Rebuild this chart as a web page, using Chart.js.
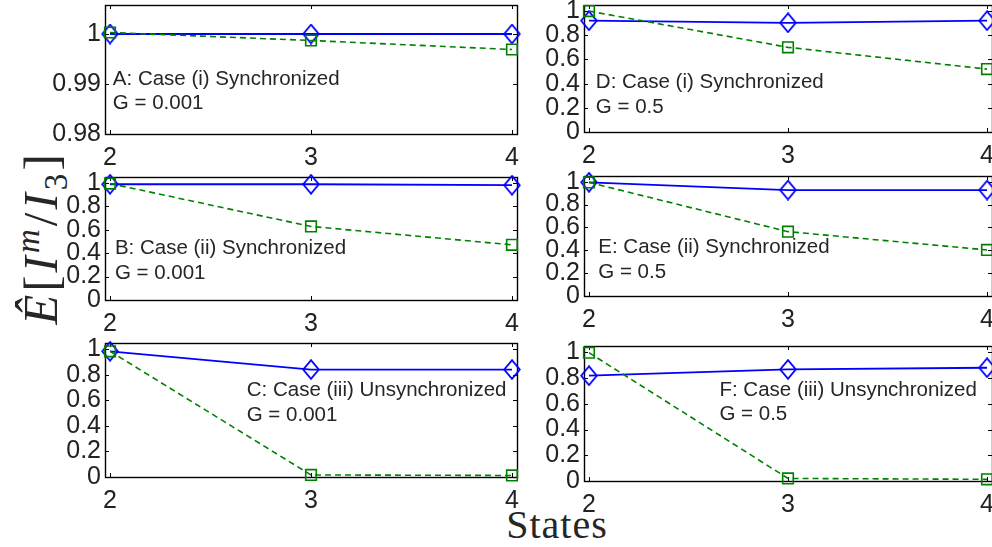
<!DOCTYPE html>
<html>
<head>
<meta charset="utf-8">
<script src="https://cdn.jsdelivr.net/npm/chart.js@4.4.0/dist/chart.umd.min.js"></script>
<style>
  html, body { margin: 0; padding: 0; background: #fff; }
  body { position: relative; width: 992px; height: 547px; overflow: hidden; }
  canvas { position: absolute; }
  #ylab {
    position: absolute; left: 40px; top: 238px;
    transform: translate(-50%, -50%) rotate(-90deg);
    font: 49px "Liberation Serif", serif; color: #262626;
    white-space: nowrap; line-height: 1; letter-spacing: 3px;
  }
  #ylab .it { font-style: italic; }
  #ylab sup, #ylab sub { font-size: 0.68em; line-height: 0; }
  #xlab {
    position: absolute; left: 557px; top: 538px;
    transform: translate(-50%, -82%);
    font: 40px "Liberation Serif", serif; color: #262626;
    letter-spacing: 1px; white-space: nowrap; line-height: 1;
  }
</style>
</head>
<body>
<div id="ylab"><span class="it">Ê</span>[<span class="it">I</span><sup class="it">m</sup>/<span class="it">I</span><sub>3</sub>]</div>
<div id="xlab">States</div>
<script>
// data
var states = [2, 3, 4];
var xTicks = [2, 3, 4];
var yTicksFine = [0.98, 0.99, 1];
var yTicksFull = [0, 0.2, 0.4, 0.6, 0.8, 1];

var blueA = [1.0, 1.0, 1.0];
var greenA = [1.0003, 0.9987, 0.9969];
var blueB = [0.988, 0.988, 0.98];
var greenB = [0.994, 0.628, 0.471];
var blueC = [0.985, 0.842, 0.842];
var greenC = [0.985, 0.016, 0.012];
var blueD = [0.92, 0.903, 0.92];
var greenD = [1.0, 0.70, 0.52];
var blueE = [0.995, 0.927, 0.927];
var greenE = [0.994, 0.563, 0.403];
var blueF = [0.819, 0.868, 0.881];
var greenF = [0.998, 0.02, 0.013];

var titles = [
  'A: Case (i) Synchronized', 'B: Case (ii) Synchronized', 'C: Case (iii) Unsynchronized',
  'D: Case (i) Synchronized', 'E: Case (ii) Synchronized', 'F: Case (iii) Unsynchronized'
];
var gLabels = ['G = 0.001', 'G = 0.001', 'G = 0.001', 'G = 0.5', 'G = 0.5', 'G = 0.5'];

// layout: plot box [left, top, right, bottom] and note anchor (fraction of plot box)
var panels = [
  { blue: blueA, green: greenA, ticks: yTicksFine, yMin: 0.98, yMax: 1.0058, box: [105, 5, 517, 134], note: [0.019, 0.62] },
  { blue: blueB, green: greenB, ticks: yTicksFull, yMin: 0, yMax: 1.05, box: [105, 177, 517, 300], note: [0.024, 0.628] },
  { blue: blueC, green: greenC, ticks: yTicksFull, yMin: 0, yMax: 1.05, box: [105, 343, 517, 477], note: [0.344, 0.396] },
  { blue: blueD, green: greenD, ticks: yTicksFull, yMin: 0, yMax: 1.05, box: [584, 5, 992, 132], note: [0.029, 0.656] },
  { blue: blueE, green: greenE, ticks: yTicksFull, yMin: 0, yMax: 1.05, box: [584, 176, 992, 296], note: [0.035, 0.644] },
  { blue: blueF, green: greenF, ticks: yTicksFull, yMin: 0, yMax: 1.05, box: [584, 346, 992, 481], note: [0.332, 0.368] }
];

var YW = 70, XH = 40, PT = 20, PR = 20;
var TXT = '#222';

function tickLabel(v) {
  return String(Math.round(v * 100) / 100);
}

// matlab-style diamond, a bit taller than wide
function makeDiamond(color) {
  var w = 18, h = 21;
  var c = document.createElement('canvas');
  c.width = w; c.height = h;
  var g = c.getContext('2d');
  g.strokeStyle = color;
  g.lineWidth = 1.8;
  g.beginPath();
  g.moveTo(w / 2, 1.2);
  g.lineTo(w - 1.2, h / 2);
  g.lineTo(w / 2, h - 1.2);
  g.lineTo(1.2, h / 2);
  g.closePath();
  g.stroke();
  return c;
}
var diamond = makeDiamond('#0000ff');

var framePlugin = {
  id: 'frame',
  beforeDatasetsDraw: function (chart, args, opts) {
    var ctx = chart.ctx, ca = chart.chartArea;
    var x = chart.scales.x, y = chart.scales.y;
    ctx.save();
    ctx.strokeStyle = '#000';
    ctx.lineWidth = 1.4;
    ctx.strokeRect(ca.left + 0.5, ca.top + 0.5, ca.right - ca.left, ca.bottom - ca.top);
    ctx.lineWidth = 1;
    ctx.beginPath();
    xTicks.forEach(function (v) {
      var px = Math.round(x.getPixelForValue(v)) + 0.5;
      ctx.moveTo(px, ca.bottom); ctx.lineTo(px, ca.bottom - 4);
      ctx.moveTo(px, ca.top); ctx.lineTo(px, ca.top + 4);
    });
    opts.yTicks.forEach(function (v) {
      var py = Math.round(y.getPixelForValue(v)) + 0.5;
      ctx.moveTo(ca.left, py); ctx.lineTo(ca.left + 4, py);
      ctx.moveTo(ca.right, py); ctx.lineTo(ca.right - 4, py);
    });
    ctx.stroke();

    // panel note
    var w = ca.right - ca.left;
    var tx = ca.left + opts.note[0] * w;
    var ty = ca.top + opts.note[1] * (ca.bottom - ca.top);
    ctx.fillStyle = '#262626';
    ctx.font = '20.5px "Liberation Sans", Arial, sans-serif';
    ctx.textBaseline = 'alphabetic';
    ctx.textAlign = 'left';
    ctx.fillText(opts.title, tx, ty);
    ctx.fillText(opts.g, tx, ty + 24.5);
    ctx.restore();
  }
};

panels.forEach(function (p, i) {
  var L = p.box[0], T = p.box[1], R = p.box[2], B = p.box[3];
  var cw = YW + (R - L) + PR;
  var ch = PT + (B - T) + XH;
  var cv = document.createElement('canvas');
  cv.width = cw; cv.height = ch;
  cv.style.width = cw + 'px'; cv.style.height = ch + 'px';
  cv.style.left = (L - YW) + 'px';
  cv.style.top = (T - PT) + 'px';
  document.body.appendChild(cv);

  var yTicks = p.ticks;
  new Chart(cv, {
    type: 'line',
    data: {
      datasets: [{
        data: states.map(function (s, k) { return { x: s, y: p.blue[k] }; }),
        borderColor: '#0000ff',
        borderWidth: 1.8,
        pointStyle: diamond,
        pointRadius: 9,
        fill: false,
        clip: false,
        order: 1
      }, {
        data: states.map(function (s, k) { return { x: s, y: p.green[k] }; }),
        borderColor: '#008000',
        borderWidth: 1.6,
        borderDash: [6, 4],
        pointStyle: 'rect',
        pointRadius: 7.5,
        pointBorderWidth: 1.6,
        pointBorderColor: '#008000',
        pointBackgroundColor: 'rgba(0,0,0,0)',
        fill: false,
        clip: false,
        order: 0
      }]
    },
    options: {
      responsive: false,
      maintainAspectRatio: false,
      devicePixelRatio: 1,
      animation: false,
      events: [],
      layout: { padding: { top: PT, right: PR, left: 0, bottom: 0 } },
      plugins: {
        legend: { display: false },
        tooltip: { enabled: false },
        frame: { yTicks: yTicks, note: p.note, title: titles[i], g: gLabels[i] }
      },
      scales: {
        x: {
          type: 'linear',
          min: 1.975,
          max: 4.025,
          grid: { display: false, drawTicks: false },
          border: { display: false },
          afterBuildTicks: function (s) {
            s.ticks = xTicks.map(function (v) { return { value: v }; });
          },
          afterFit: function (s) {
            s.height = XH;
            s.paddingLeft = 0; s.paddingRight = 0;
          },
          ticks: {
            font: { family: '"Liberation Sans", Arial, sans-serif', size: 25 },
            color: TXT,
            padding: 9,
            maxRotation: 0,
            autoSkip: false,
            callback: function (v) { return tickLabel(v); }
          }
        },
        y: {
          type: 'linear',
          min: p.yMin,
          max: p.yMax,
          grid: { display: false, drawTicks: false },
          border: { display: false },
          afterBuildTicks: function (s) {
            s.ticks = yTicks.map(function (v) { return { value: v }; });
          },
          afterFit: function (s) {
            s.width = YW;
            s.paddingTop = 0; s.paddingBottom = 0;
          },
          ticks: {
            font: { family: '"Liberation Sans", Arial, sans-serif', size: 25 },
            color: TXT,
            padding: 4,
            autoSkip: false,
            callback: function (v) { return tickLabel(v); }
          }
        }
      }
    },
    plugins: [framePlugin]
  });
});
</script>
</body>
</html>
